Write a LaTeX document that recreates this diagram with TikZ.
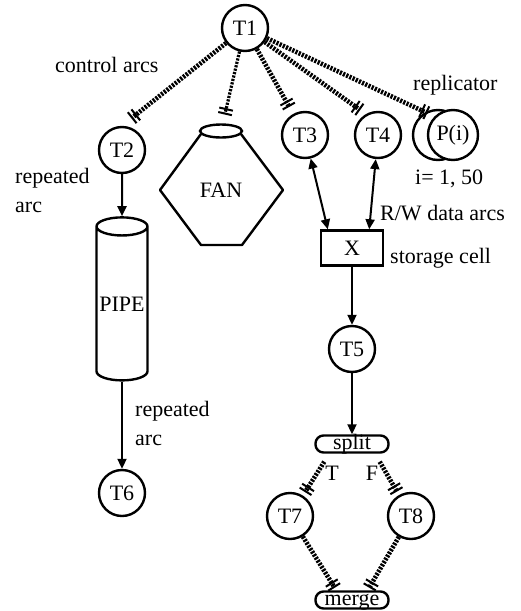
\documentclass[tikz,border=0pt]{standalone}
\usepackage{fontspec}
\setmainfont{Liberation Serif}
\usetikzlibrary{arrows.meta, positioning, shapes.geometric}
\tikzset{
  place/.style={circle, draw, line width=2.4pt, minimum size=46pt, inner sep=0pt,
                fill=white, font=\fontsize{22}{24}\selectfont},
  cell/.style={draw, line width=2.4pt, minimum width=62pt, minimum height=35pt,
               inner sep=0pt, font=\fontsize{22}{24}\selectfont},
  gate/.style={draw, line width=2.4pt, rounded corners=8pt, minimum width=73pt,
               text height=12pt, text depth=1pt, inner xsep=0pt, inner ysep=2pt,
               font=\fontsize{22}{24}\selectfont},
  outline/.style={draw, line width=2.4pt, line join=round},
  ctrl/.style={line width=4.6pt, dash pattern=on 2.2pt off 1.3pt,
               -{Bar[width=14pt,line width=2pt,sep=2.6pt]Bar[width=14pt,line width=2pt]}},
  ctrlfine/.style={ctrl, line width=3.2pt},
  data/.style={line width=2pt, -{Triangle[length=10pt,width=9pt]}},
  rw/.style={line width=2pt, {Triangle[length=10pt,width=9pt]}-{Triangle[length=10pt,width=9pt]}},
  lab/.style={font=\fontsize{22}{29}\selectfont, align=left, inner sep=0pt},
}

\begin{document}
\begin{tikzpicture}[x=1pt, y=-1pt]
\useasboundingbox (0,0) rectangle (520,611);

% ---------- top row: controller and the nodes it starts ----------
\node[place] (t1) at (245,28) {T1};
\node[place] (t2) at (122,150) {T2};
\node[place] (t3) at (305,135) {T3};
\node[place] (t4) at (378,135) {T4};
\node[place, minimum size=50pt] (pback) at (438,135) {};
\node[place, minimum size=50pt] (pi) at (453,135) {P(i)};

\node[font=\fontsize{22}{24}\selectfont] (fan) at (221,190) {FAN};
\draw[outline] ([shift={(-20,-56)}]fan.center) -- ([shift={(-61,0)}]fan.center)
  -- ([shift={(-20,55)}]fan.center) -- ([shift={(21,55)}]fan.center)
  -- ([shift={(62,0)}]fan.center) -- ([shift={(20,-56)}]fan.center);
\node[ellipse, draw, line width=2.4pt, fill=white, minimum width=42pt,
      minimum height=13pt, inner sep=0pt] (fantop) at (221,131) {};

% ---------- left column: pipe ----------
\node[cylinder, shape border rotate=90, draw, line width=2.4pt, aspect=0.4,
      minimum width=51pt, minimum height=163pt, inner sep=0pt,
      font=\fontsize{22}{24}\selectfont] (pipe) at (122,304) {PIPE};
\node[place] (t6) at (122,493) {T6};

% ---------- right column: storage cell, split and merge ----------
\node[cell] (x) at (352,248) {X};
\node[place] (t5) at (352,349) {T5};
\node[gate] (split) at (352,444) {split};
\node[place] (t7) at (290,516) {T7};
\node[place] (t8) at (411,516) {T8};
\node[gate] (merge) at (352,600) {merge};

% ---------- arcs ----------
\draw[ctrl, shorten >=12pt] (t1) -- (t2.north);
\draw[ctrlfine, shorten >=9pt] (t1) -- (fantop);
\draw[ctrl, shorten >=8pt] (t1) -- (t3);
\draw[ctrl, shorten >=7pt] (t1) -- (t4.120);
\draw[ctrl, shorten >=8pt] (t1) -- (pi.north west);

\draw[data] (t2) -- (pipe);
\draw[data] (pipe) -- (t6);
\draw[rw] (t3) -- ([xshift=8pt]x.north west);
\draw[rw] (t4) -- ([xshift=-15pt]x.north east);
\draw[data] (x) -- (t5);
\draw[data] (t5) -- (split);

\draw[ctrl, shorten >=4pt] ([shift={(10,8)}]split.south west) -- (t7);
\draw[ctrl, shorten >=4pt] ([shift={(-10,8)}]split.south east) -- (t8);
\draw[ctrl, shorten >=3pt] (t7) -- ([xshift=22pt]merge.north west);
\draw[ctrl, shorten >=3pt] (t8) -- ([xshift=-22pt]merge.north east);

% ---------- labels ----------
\node[lab, anchor=base west] at (55,72) {control arcs};
\node[lab, anchor=base west] at (413,90) {replicator};
\node[lab, anchor=base west] at (415,184) {i= 1, 50};
\node[lab, anchor=base west] at (380,220) {R/W data arcs};
\node[lab, anchor=base west] at (390,263) {storage cell};
\node[lab, anchor=base west] at (15,212) {repeated\\arc};
\node[lab, anchor=base west] at (135,445) {repeated\\arc};
\node[lab, anchor=base] at (332,480) {T};
\node[lab, anchor=base] at (372,480) {F};

\end{tikzpicture}
\end{document}
